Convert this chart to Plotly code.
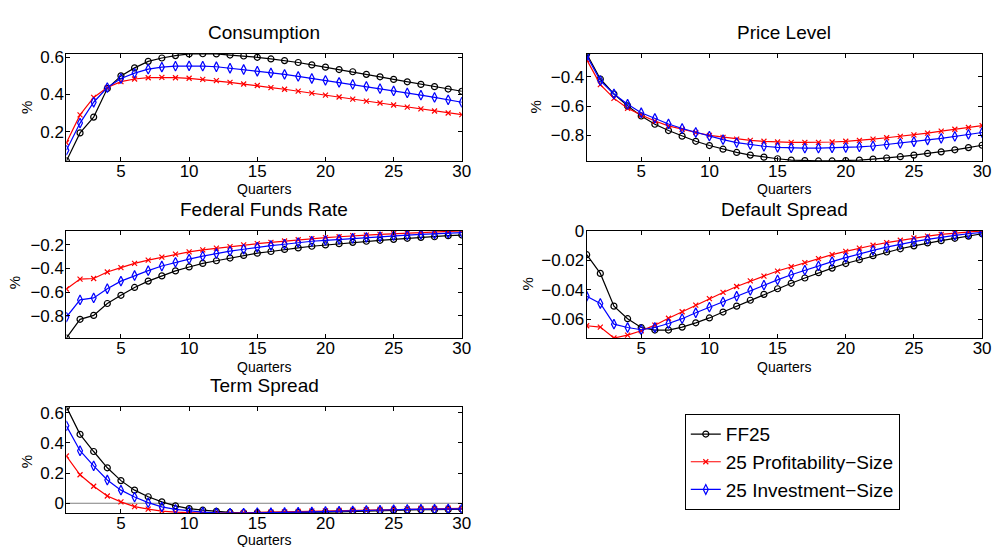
import plotly.graph_objects as go

# Impulse responses over 30 quarters for three sets of test portfolios
quarters = list(range(1, 31))

cons_ff25 = [0.042, 0.193, 0.278, 0.432, 0.500, 0.543, 0.578, 0.596, 0.609, 0.618,
             0.619, 0.618, 0.612, 0.607, 0.600, 0.591, 0.582, 0.572, 0.559, 0.547,
             0.534, 0.522, 0.508, 0.495, 0.481, 0.468, 0.454, 0.442, 0.429, 0.417]
cons_prof = [0.140, 0.290, 0.384, 0.437, 0.469, 0.483, 0.490, 0.492, 0.490, 0.487,
             0.481, 0.474, 0.465, 0.456, 0.448, 0.437, 0.428, 0.418, 0.407, 0.396,
             0.386, 0.375, 0.364, 0.354, 0.343, 0.332, 0.322, 0.311, 0.300, 0.291]
cons_inv = [0.100, 0.246, 0.358, 0.437, 0.486, 0.515, 0.536, 0.547, 0.552, 0.554,
            0.552, 0.549, 0.541, 0.534, 0.525, 0.516, 0.508, 0.497, 0.486, 0.476,
            0.465, 0.454, 0.443, 0.431, 0.419, 0.408, 0.396, 0.384, 0.371, 0.358]

price_ff25 = [-0.244, -0.416, -0.518, -0.599, -0.668, -0.724, -0.767, -0.805, -0.840, -0.869,
              -0.894, -0.916, -0.934, -0.948, -0.959, -0.968, -0.972, -0.974, -0.974, -0.972,
              -0.968, -0.961, -0.954, -0.945, -0.934, -0.923, -0.912, -0.898, -0.883, -0.867]
price_prof = [-0.284, -0.454, -0.548, -0.615, -0.661, -0.702, -0.735, -0.760, -0.780, -0.800,
              -0.813, -0.825, -0.834, -0.840, -0.845, -0.847, -0.847, -0.847, -0.845, -0.840,
              -0.834, -0.825, -0.816, -0.807, -0.796, -0.784, -0.771, -0.758, -0.746, -0.733]
price_inv = [-0.257, -0.427, -0.518, -0.588, -0.646, -0.684, -0.722, -0.753, -0.780, -0.805,
             -0.829, -0.849, -0.863, -0.874, -0.881, -0.885, -0.887, -0.887, -0.885, -0.883,
             -0.878, -0.872, -0.863, -0.854, -0.843, -0.831, -0.820, -0.807, -0.793, -0.780]

ffr_ff25 = [-0.985, -0.828, -0.795, -0.695, -0.626, -0.560, -0.507, -0.463, -0.421, -0.388,
            -0.358, -0.336, -0.313, -0.291, -0.272, -0.258, -0.241, -0.228, -0.214, -0.203,
            -0.192, -0.181, -0.172, -0.164, -0.156, -0.147, -0.139, -0.134, -0.125, -0.120]
ffr_prof = [-0.573, -0.490, -0.485, -0.430, -0.394, -0.358, -0.330, -0.305, -0.280, -0.261,
            -0.244, -0.230, -0.217, -0.203, -0.192, -0.181, -0.170, -0.159, -0.150, -0.142,
            -0.134, -0.125, -0.120, -0.114, -0.109, -0.103, -0.098, -0.095, -0.089, -0.084]
ffr_inv = [-0.809, -0.665, -0.648, -0.571, -0.507, -0.460, -0.419, -0.380, -0.349, -0.322,
           -0.297, -0.275, -0.255, -0.239, -0.222, -0.208, -0.197, -0.183, -0.172, -0.164,
           -0.156, -0.147, -0.139, -0.134, -0.125, -0.120, -0.114, -0.109, -0.103, -0.100]

dspread_ff25 = [-0.0162, -0.0289, -0.0511, -0.0596, -0.0656, -0.0673, -0.0673, -0.0653, -0.0624, -0.0591,
                -0.0551, -0.0511, -0.0471, -0.0431, -0.0393, -0.0356, -0.0320, -0.0284, -0.0253, -0.0222,
                -0.0196, -0.0169, -0.0144, -0.0122, -0.0102, -0.0082, -0.0067, -0.0051, -0.0036, -0.0020]
dspread_prof = [-0.0644, -0.0653, -0.0727, -0.0707, -0.0678, -0.0640, -0.0593, -0.0549, -0.0504, -0.0460,
                -0.0418, -0.0378, -0.0340, -0.0307, -0.0273, -0.0244, -0.0216, -0.0189, -0.0162, -0.0140,
                -0.0118, -0.0098, -0.0080, -0.0064, -0.0049, -0.0036, -0.0024, -0.0016, -0.0009, 0.0000]
dspread_inv = [-0.0444, -0.0493, -0.0633, -0.0656, -0.0671, -0.0656, -0.0629, -0.0596, -0.0556, -0.0518,
               -0.0482, -0.0444, -0.0404, -0.0369, -0.0333, -0.0298, -0.0267, -0.0238, -0.0209, -0.0182,
               -0.0156, -0.0133, -0.0111, -0.0091, -0.0073, -0.0058, -0.0042, -0.0031, -0.0020, -0.0011]

tspread_ff25 = [0.639, 0.457, 0.343, 0.235, 0.150, 0.087, 0.043, 0.009, -0.017, -0.035,
                -0.046, -0.054, -0.061, -0.063, -0.063, -0.063, -0.063, -0.061, -0.061, -0.059,
                -0.057, -0.054, -0.052, -0.050, -0.048, -0.046, -0.043, -0.043, -0.041, -0.039]
tspread_prof = [0.313, 0.189, 0.113, 0.048, 0.009, -0.022, -0.039, -0.052, -0.059, -0.063,
                -0.065, -0.065, -0.065, -0.063, -0.061, -0.059, -0.057, -0.054, -0.052, -0.050,
                -0.048, -0.046, -0.043, -0.041, -0.039, -0.037, -0.035, -0.035, -0.033, -0.033]
tspread_inv = [0.513, 0.348, 0.248, 0.154, 0.087, 0.041, 0.004, -0.024, -0.041, -0.052,
               -0.059, -0.063, -0.065, -0.065, -0.063, -0.063, -0.061, -0.059, -0.057, -0.054,
               -0.052, -0.050, -0.048, -0.046, -0.043, -0.041, -0.039, -0.039, -0.037, -0.037]

panel_titles = ["Consumption", "Price Level", "Federal Funds Rate", "Default Spread", "Term Spread"]
series_names = ["FF25", "25 Profitability\u2212Size", "25 Investment\u2212Size"]
panel_ticks = [[0.2, 0.4, 0.6], [-0.8, -0.6, -0.4], [-0.8, -0.6, -0.4, -0.2],
               [-0.06, -0.04, -0.02, 0], [0, 0.2, 0.4, 0.6]]
x_ticks = [5, 10, 15, 20, 25, 30]

panels = [
    (cons_ff25, cons_prof, cons_inv),
    (price_ff25, price_prof, price_inv),
    (ffr_ff25, ffr_prof, ffr_inv),
    (dspread_ff25, dspread_prof, dspread_inv),
    (tspread_ff25, tspread_prof, tspread_inv),
]

FONT = "Liberation Sans, Arial, Helvetica, sans-serif"
W, H = 1002, 547

# pixel boxes of each axes: (left, right, top, bottom)
boxes = [
    (67, 466, 45.5, 154.5),
    (592, 991, 45.5, 154.5),
    (67, 466, 225.5, 334.5),
    (592, 991, 225.5, 334.5),
    (67, 466, 404.5, 512.5),
]

styles = [
    dict(color="#000000", symbol="circle-open", size=6),
    dict(color="#ff0000", symbol="x-thin-open", size=5),
    dict(color="#0000ff", symbol="diamond-tall-open", size=7),
]

fig = go.Figure()
layout = {}
annotations = []
shapes = []

for i, (series, box, title, ticks) in enumerate(zip(panels, boxes, panel_titles, panel_ticks)):
    n = i + 1
    xa = "x" if n == 1 else f"x{n}"
    ya = "y" if n == 1 else f"y{n}"
    left, right, top, bottom = box

    if n == 5:
        # horizontal reference line at zero
        shapes.append(dict(type="line", xref=f"{xa} domain", yref=ya, x0=0, x1=1, y0=0, y1=0,
                           line=dict(color="#808080", width=1), layer="below"))

    for vals, name, st in zip(series, series_names, styles):
        fig.add_trace(go.Scatter(
            x=quarters, y=vals, mode="lines+markers", name=name,
            xaxis=xa, yaxis=ya, showlegend=(n == 1),
            line=dict(color=st["color"], width=1.2),
            marker=dict(symbol=st["symbol"], size=st["size"], color=st["color"],
                        line=dict(color=st["color"], width=1.2)),
        ))

    allv = [v for s in series for v in s]
    lo, hi = min(allv), max(allv)

    axis_common = dict(showline=True, linecolor="black", linewidth=1, mirror="ticks",
                       ticks="inside", ticklen=4, tickcolor="black", tickwidth=1,
                       showgrid=False, zeroline=False,
                       tickfont=dict(family=FONT, size=17, color="black"))
    layout["xaxis" if n == 1 else f"xaxis{n}"] = dict(
        axis_common, domain=[left / W, right / W], anchor=ya, range=[1, 30],
        tickmode="array", tickvals=x_ticks, ticklabelstandoff=-5)
    layout["yaxis" if n == 1 else f"yaxis{n}"] = dict(
        axis_common, domain=[1 - bottom / H, 1 - top / H], anchor=xa, range=[lo, hi],
        tickmode="array", tickvals=ticks, ticklabelstandoff=-2)

    cx = (left + right) / 2
    annotations.append(dict(text=title, x=cx / W, y=1 - (top - 22) / H, xref="paper", yref="paper",
                            xanchor="center", yanchor="middle", showarrow=False,
                            font=dict(family=FONT, size=19, color="black")))
    q_off = 27.5 if n == 5 else 29
    annotations.append(dict(text="Quarters", x=cx / W, y=1 - (bottom + q_off) / H, xref="paper",
                            yref="paper", xanchor="center", yanchor="middle", showarrow=False,
                            font=dict(family=FONT, size=14, color="black")))

# "%" y-axis labels
pct_pos = [(27, 100), (540, 100), (15, 278), (532, 280), (27, 460)]
for px, py in pct_pos:
    annotations.append(dict(text="%", x=px / W, y=1 - py / H, xref="paper", yref="paper",
                            xanchor="center", yanchor="middle", textangle=-90, showarrow=False,
                            font=dict(family=FONT, size=15, color="black")))

fig.update_layout(
    width=W, height=H,
    margin=dict(l=0, r=0, t=0, b=0),
    paper_bgcolor="white", plot_bgcolor="white",
    showlegend=True,
    legend=dict(x=691 / W, y=1 - 412 / H, xanchor="left", yanchor="top",
                bordercolor="black", borderwidth=1, bgcolor="white",
                font=dict(family=FONT, size=19, color="black"),
                itemwidth=30, tracegroupgap=0),
    annotations=annotations,
    shapes=shapes,
    **layout,
)

fig.write_html("out.html")
